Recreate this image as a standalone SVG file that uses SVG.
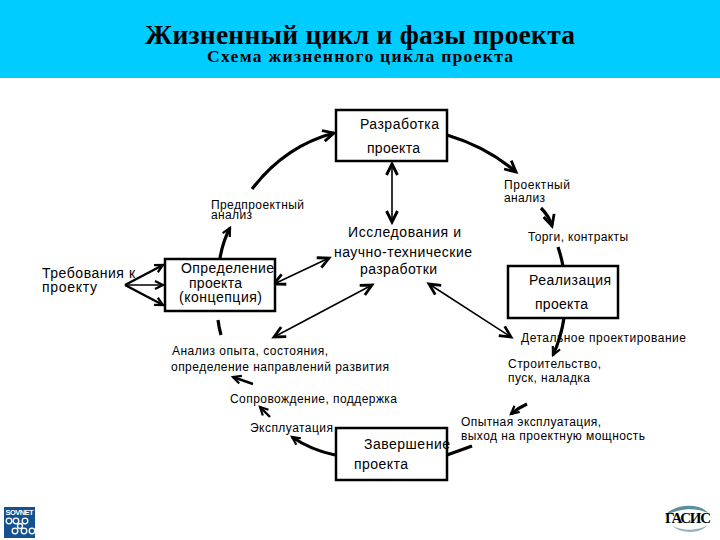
<svg xmlns="http://www.w3.org/2000/svg" width="720" height="540" viewBox="0 0 720 540">
<style>
text{font-family:"Liberation Sans",Arial,sans-serif;fill:#000}
.b{font-size:14px}
.s{font-size:12px}
.h{font-family:"Liberation Serif","Times New Roman",serif;font-weight:bold}
.box{fill:#fff;stroke:#000;stroke-width:2.5}
#connectors path{fill:none;stroke:#000}
.t{stroke-width:3.200}
.n{stroke-width:1.600}
.m{stroke-width:2.400}
</style>
<defs>
<marker id="a" markerUnits="userSpaceOnUse" markerWidth="20" markerHeight="20" refX="13" refY="10" orient="auto-start-reverse" viewBox="0 0 20 20">
<path d="M2 4.500L13 10L2 15.500" fill="none" stroke="#000" stroke-width="2.800"/>
</marker>
<marker id="c" markerUnits="userSpaceOnUse" markerWidth="14" markerHeight="14" refX="9" refY="7" orient="auto" viewBox="0 0 14 14">
<path d="M1 3L9 7L1 11" fill="none" stroke="#000" stroke-width="2.200"/>
</marker>
</defs>
<rect width="720" height="540" fill="#fff"/>
<rect id="header" width="720" height="78" fill="#00ccff"/>
<text class="h" x="145" y="44" font-size="27.500" textLength="430">Жизненный цикл и фазы проекта</text>
<text class="h" x="207" y="62" font-size="17.500" textLength="306">Схема жизненного цикла проекта</text>

<g id="connectors">
<path class="t" d="M252 189Q285 146 334 133" marker-end="url(#a)"/>
<path class="t" d="M447 135Q487 147 516 172" marker-end="url(#a)"/>
<path class="t" d="M541 208Q549 216 552 226" marker-end="url(#a)"/>
<path class="t" d="M558 247Q561 256 563 266"/>
<path class="t" d="M564 318Q561 338 553 355" marker-end="url(#c)"/>
<path class="t" d="M527 404Q518 408 511 414" marker-end="url(#c)"/>
<path class="t" d="M447 455L472 446"/>
<path class="t" d="M335 455Q311 450 292 437" marker-end="url(#c)"/>
<path class="m" d="M270 417L260 407" marker-end="url(#c)"/>
<path class="m" d="M253 384L233 377" marker-end="url(#c)"/>
<path class="t" d="M218 320Q219 328 221 335"/>
<path class="t" d="M220 258Q223 241 230 228" marker-end="url(#c)"/>
<path class="n" d="M392 164V222" marker-start="url(#a)" marker-end="url(#a)"/>
<path class="n" d="M274 284L329 258" marker-start="url(#a)" marker-end="url(#a)"/>
<path class="n" d="M274 337L372 285" marker-start="url(#a)" marker-end="url(#a)"/>
<path class="n" d="M429 284L511 337" marker-start="url(#a)" marker-end="url(#a)"/>
<path class="m" d="M125 285L163 265" marker-end="url(#c)"/>
<path class="n" d="M125 285H163" marker-end="url(#c)"/>
<path class="m" d="M125 285L163 305" marker-end="url(#c)"/>
</g>

<g id="node-razrabotka">
<rect class="box" x="336" y="110" width="111" height="51"/>
<text class="b" x="360" y="129" textLength="79">Разработка</text>
<text class="b" x="367" y="153" textLength="53">проекта</text>
</g>
<g id="node-opredelenie">
<rect class="box" x="165" y="259" width="110" height="52"/>
<text class="b" x="181" y="273" textLength="93">Определение</text>
<text class="b" x="189" y="288" textLength="53">проекта</text>
<text class="b" x="179" y="302" textLength="83">(концепция)</text>
</g>
<g id="node-realizaciya">
<rect class="box" x="508" y="266" width="110" height="52"/>
<text class="b" x="529" y="285" textLength="82">Реализация</text>
<text class="b" x="535" y="309" textLength="53">проекта</text>
</g>
<g id="node-zavershenie">
<rect class="box" x="336" y="428" width="111" height="52"/>
<text class="b" x="364" y="449" textLength="86">Завершение</text>
<text class="b" x="354" y="469" textLength="54">проекта</text>
</g>
<g id="node-issled">
<text class="b" x="348" y="237" textLength="113">Исследования и</text>
<text class="b" x="334" y="257" textLength="138">научно-технические</text>
<text class="b" x="360" y="274" textLength="77">разработки</text>
</g>
<g id="node-trebovaniya">
<text class="b" x="42" y="278" textLength="93">Требования к</text>
<text class="b" x="42" y="292" textLength="55">проекту</text>
</g>
<g id="labels">
<text class="s" x="211" y="209" textLength="93">Предпроектный</text>
<text class="s" x="211" y="219" textLength="41">анализ</text>
<text class="s" x="504" y="189" textLength="66">Проектный</text>
<text class="s" x="504" y="202" textLength="41">анализ</text>
<text class="s" x="528" y="241" textLength="100">Торги, контракты</text>
<text class="s" x="521" y="342" textLength="165">Детальное проектирование</text>
<text class="s" x="508" y="368" textLength="93">Строительство,</text>
<text class="s" x="508" y="382" textLength="82">пуск, наладка</text>
<text class="s" x="461" y="426" textLength="140">Опытная эксплуатация,</text>
<text class="s" x="461" y="440" textLength="184">выход на проектную мощность</text>
<text class="s" x="172" y="355" textLength="156">Анализ опыта, состояния,</text>
<text class="s" x="171" y="371" textLength="218">определение направлений развития</text>
<text class="s" x="230" y="403" textLength="167">Сопровождение, поддержка</text>
<text class="s" x="250" y="432" textLength="83">Эксплуатация</text>
</g>
<g id="logo-sovnet">
<rect x="4" y="507" width="31" height="31" fill="#15508f"/>
<text x="5.500" y="515" font-size="7.500" font-weight="bold" style="fill:#fff" textLength="28">SOVNET</text>
<g fill="none" stroke="#fff" stroke-width="1.300">
<circle cx="9" cy="521" r="2.800"/><circle cx="16" cy="521" r="2.800"/><circle cx="25" cy="521" r="2.800"/>
<circle cx="20" cy="526" r="2.500"/>
<circle cx="15" cy="531" r="2.800"/><circle cx="24" cy="531" r="2.800"/><circle cx="32" cy="531" r="2.800"/>
</g>
</g>
<g id="logo-tasis">
<path d="M665 516C672 504 700 502 708 513C696 507 678 508 665 516Z" fill="#5a8f9c"/>
<path d="M672 526C682 534 700 534 708 525C698 531 684 531 672 526Z" fill="#8fb3bd"/>
<text class="h" x="665" y="523" font-size="15" textLength="46" style="font-family:'Liberation Serif',serif">ГАСИС</text>
</g>
</svg>
